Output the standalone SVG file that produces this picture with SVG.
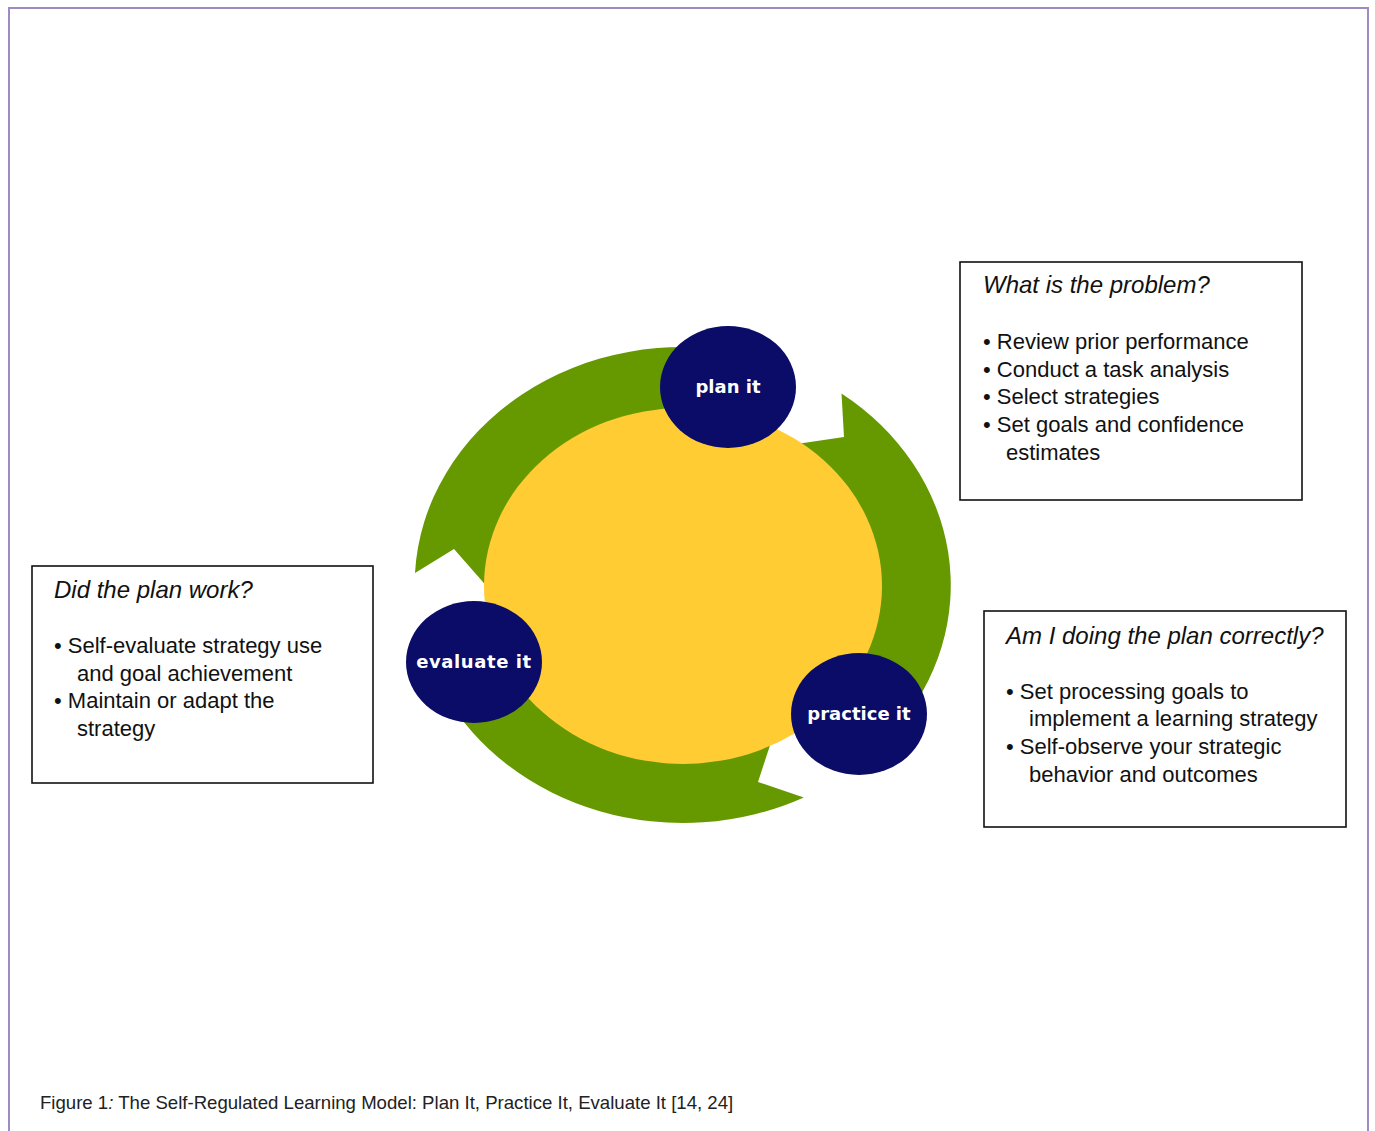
<svg xmlns="http://www.w3.org/2000/svg" width="1375" height="1131" viewBox="0 0 1375 1131">
  <style>
    .frame { fill: none; stroke: #a08ac6; stroke-width: 2; }
    .arrow { fill: #669900; }
    .hub { fill: #ffcc33; }
    .stage { fill: #0b0b68; }
    .stage-label { font-family: "DejaVu Sans", Verdana, sans-serif; font-weight: bold; font-size: 18px; fill: #ffffff; text-anchor: middle; }
    .box { fill: #ffffff; stroke: #111111; stroke-width: 1.6; }
    .box-title { font-family: "Liberation Sans", Arial, sans-serif; font-style: italic; font-size: 24px; fill: #111111; }
    .box-text { font-family: "Liberation Sans", Arial, sans-serif; font-size: 22px; fill: #111111; }
    .caption { font-family: "Liberation Sans", Arial, sans-serif; font-size: 18.6px; fill: #222222; }
  </style>

  <!-- page frame -->
  <rect class="frame" x="9" y="8" width="1359" height="1140"/>

  <!-- cycle arrows (clockwise, each with a notched tail) -->
  <g id="connectors">
    <!-- evaluate it -> plan it -->
    <path id="arrow-evaluate-plan" class="arrow" d="M415,573 A268,238 0 0 1 745,353.5 L720.4,429.5 A180,160 0 0 0 506.9,552.7 L497,598 L454,549 Z"/>
    <!-- plan it -> practice it -->
    <path id="arrow-plan-practice" class="arrow" d="M841.5,393.5 A268,238 0 0 1 894.2,731.5 L820.9,688.8 A180,160 0 0 0 773,447.4 L844,437 Z"/>
    <!-- practice it -> evaluate it -->
    <path id="arrow-practice-evaluate" class="arrow" d="M803.8,797.4 A268,238 0 0 1 444.2,693 L513.9,640.7 A180,160 0 0 0 786.2,717 L774,733 L758,782 Z"/>
  </g>

  <!-- central disc -->
  <ellipse id="hub" class="hub" cx="683" cy="586" rx="199" ry="178"/>

  <g id="plan-it">
    <ellipse class="stage" cx="728" cy="387" rx="68" ry="61"/>
    <text class="stage-label" x="728" y="393">plan it</text>
  </g>
  <g id="practice-it">
    <ellipse class="stage" cx="859" cy="714" rx="68" ry="61"/>
    <text class="stage-label" x="859" y="720">practice it</text>
  </g>
  <g id="evaluate-it">
    <ellipse class="stage" cx="474" cy="662" rx="68" ry="61"/>
    <text class="stage-label" x="474" y="668" letter-spacing="0.6">evaluate it</text>
  </g>

  <g id="box-plan">
    <rect class="box" x="960" y="262" width="342" height="238"/>
    <text class="box-title" x="983" y="293">What is the problem?</text>
    <text class="box-text" x="983" y="349">• Review prior performance</text>
    <text class="box-text" x="983" y="377">• Conduct a task analysis</text>
    <text class="box-text" x="983" y="404">• Select strategies</text>
    <text class="box-text" x="983" y="432">• Set goals and confidence</text>
    <text class="box-text" x="1006" y="460">estimates</text>
  </g>

  <g id="box-practice">
    <rect class="box" x="984" y="611" width="362" height="216"/>
    <text class="box-title" x="1006" y="644">Am I doing the plan correctly?</text>
    <text class="box-text" x="1006" y="699">• Set processing goals to</text>
    <text class="box-text" x="1029" y="726">implement a learning strategy</text>
    <text class="box-text" x="1006" y="754">• Self-observe your strategic</text>
    <text class="box-text" x="1029" y="782">behavior and outcomes</text>
  </g>

  <g id="box-evaluate">
    <rect class="box" x="32" y="566" width="341" height="217"/>
    <text class="box-title" x="54" y="598">Did the plan work?</text>
    <text class="box-text" x="54" y="653">• Self-evaluate strategy use</text>
    <text class="box-text" x="77" y="681">and goal achievement</text>
    <text class="box-text" x="54" y="708">• Maintain or adapt the</text>
    <text class="box-text" x="77" y="736">strategy</text>
  </g>

  <text class="caption" x="40" y="1109">Figure 1<tspan font-style="italic">:</tspan> The Self-Regulated Learning Model: Plan It, Practice It, Evaluate It [14, 24]</text>
</svg>
